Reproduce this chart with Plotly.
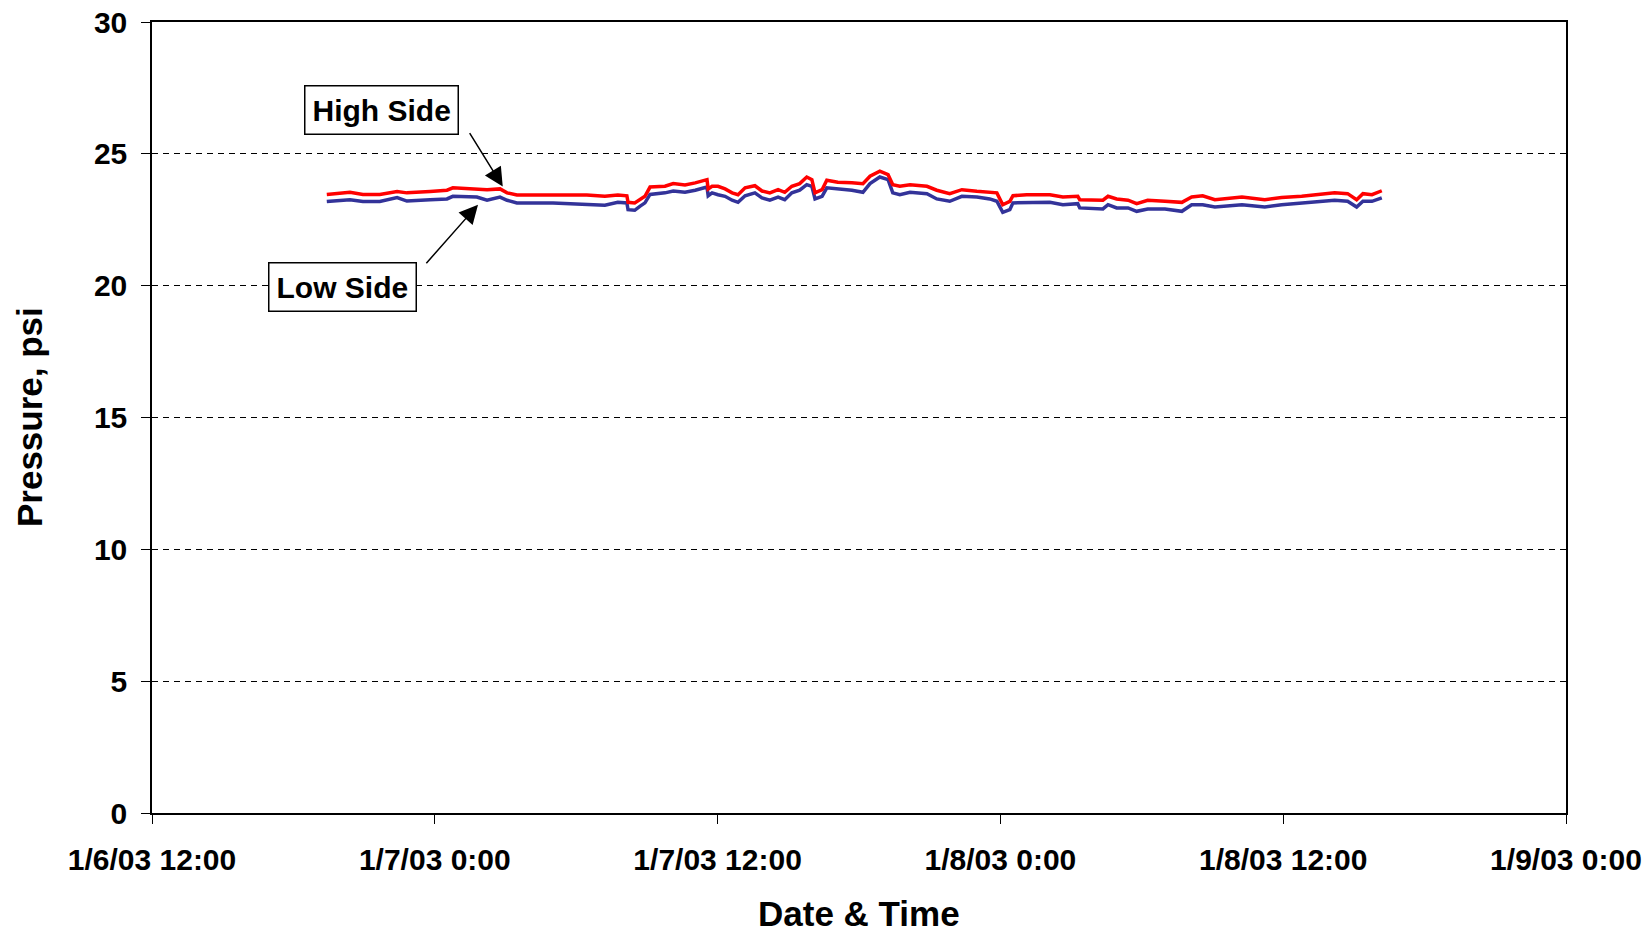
import plotly.graph_objects as go

# ---- data ----
times = [
    "2003-01-06 19:25", "2003-01-06 20:24", "2003-01-06 20:57", "2003-01-06 21:40",
    "2003-01-06 22:24", "2003-01-06 22:49", "2003-01-06 23:48", "2003-01-07 00:31",
    "2003-01-07 00:46", "2003-01-07 01:47", "2003-01-07 02:13", "2003-01-07 02:46",
    "2003-01-07 03:04", "2003-01-07 03:29", "2003-01-07 05:01", "2003-01-07 06:27",
    "2003-01-07 07:13", "2003-01-07 07:46", "2003-01-07 08:09", "2003-01-07 08:12",
    "2003-01-07 08:29", "2003-01-07 08:42", "2003-01-07 08:55", "2003-01-07 09:08",
    "2003-01-07 09:46", "2003-01-07 10:07", "2003-01-07 10:37", "2003-01-07 11:03",
    "2003-01-07 11:33", "2003-01-07 11:36", "2003-01-07 11:46", "2003-01-07 12:01",
    "2003-01-07 12:19", "2003-01-07 12:37", "2003-01-07 12:52", "2003-01-07 13:10",
    "2003-01-07 13:35", "2003-01-07 13:53", "2003-01-07 14:13", "2003-01-07 14:34",
    "2003-01-07 14:51", "2003-01-07 15:09", "2003-01-07 15:29", "2003-01-07 15:47",
    "2003-01-07 16:00", "2003-01-07 16:08", "2003-01-07 16:26", "2003-01-07 16:38",
    "2003-01-07 17:06", "2003-01-07 17:42", "2003-01-07 18:10", "2003-01-07 18:28",
    "2003-01-07 18:53", "2003-01-07 19:14", "2003-01-07 19:26", "2003-01-07 19:44",
    "2003-01-07 20:10", "2003-01-07 20:53", "2003-01-07 21:18", "2003-01-07 21:51",
    "2003-01-07 22:22", "2003-01-07 23:00", "2003-01-07 23:33", "2003-01-07 23:51",
    "2003-01-08 00:06", "2003-01-08 00:24", "2003-01-08 00:32", "2003-01-08 01:07",
    "2003-01-08 02:06", "2003-01-08 02:39", "2003-01-08 03:17", "2003-01-08 03:22",
    "2003-01-08 04:21", "2003-01-08 04:34", "2003-01-08 04:56", "2003-01-08 05:25",
    "2003-01-08 05:47", "2003-01-08 06:15", "2003-01-08 06:59", "2003-01-08 07:42",
    "2003-01-08 08:07", "2003-01-08 08:35", "2003-01-08 09:06", "2003-01-08 10:15",
    "2003-01-08 11:13", "2003-01-08 11:56", "2003-01-08 12:47", "2003-01-08 13:28",
    "2003-01-08 14:11", "2003-01-08 14:44", "2003-01-08 15:07", "2003-01-08 15:23",
    "2003-01-08 15:46", "2003-01-08 16:11",
]

high_side = [
    23.46, 23.54, 23.46, 23.46, 23.57, 23.52, 23.57, 23.62,
    23.71, 23.67, 23.64, 23.67, 23.52, 23.44, 23.44, 23.44,
    23.39, 23.44, 23.41, 23.16, 23.14, 23.26, 23.39, 23.74,
    23.77, 23.87, 23.82, 23.90, 24.02, 23.67, 23.77, 23.77,
    23.67, 23.52, 23.45, 23.71, 23.79, 23.59, 23.52, 23.64,
    23.54, 23.77, 23.87, 24.12, 24.02, 23.52, 23.64, 24.00,
    23.92, 23.90, 23.87, 24.15, 24.34, 24.21, 23.83, 23.77,
    23.83, 23.77, 23.62, 23.49, 23.64, 23.58, 23.54, 23.52,
    23.07, 23.20, 23.41, 23.45, 23.45, 23.36, 23.39, 23.26,
    23.24, 23.39, 23.29, 23.24, 23.11, 23.24, 23.20, 23.16,
    23.36, 23.41, 23.26, 23.36, 23.26, 23.34, 23.39, 23.45,
    23.52, 23.49, 23.26, 23.49, 23.45, 23.60,
]

low_side = [
    23.19, 23.26, 23.19, 23.19, 23.34, 23.21, 23.26, 23.29,
    23.39, 23.36, 23.24, 23.36, 23.24, 23.14, 23.14, 23.09,
    23.05, 23.16, 23.14, 22.88, 22.86, 23.01, 23.14, 23.46,
    23.52, 23.59, 23.54, 23.62, 23.74, 23.41, 23.52, 23.45,
    23.39, 23.24, 23.16, 23.41, 23.52, 23.33, 23.24, 23.36,
    23.26, 23.52, 23.62, 23.83, 23.77, 23.29, 23.39, 23.71,
    23.67, 23.62, 23.54, 23.87, 24.12, 24.02, 23.52, 23.45,
    23.54, 23.49, 23.29, 23.20, 23.39, 23.36, 23.29, 23.20,
    22.78, 22.88, 23.14, 23.14, 23.16, 23.07, 23.11, 22.95,
    22.91, 23.07, 22.95, 22.95, 22.82, 22.91, 22.91, 22.82,
    23.07, 23.07, 22.98, 23.07, 22.98, 23.07, 23.14, 23.20,
    23.24, 23.20, 22.98, 23.20, 23.20, 23.33,
]

x_tick_vals = ["2003-01-06 12:00", "2003-01-07 00:00", "2003-01-07 12:00",
               "2003-01-08 00:00", "2003-01-08 12:00", "2003-01-09 00:00"]
x_tick_text = ["1/6/03 12:00", "1/7/03 0:00", "1/7/03 12:00",
               "1/8/03 0:00", "1/8/03 12:00", "1/9/03 0:00"]
y_tick_vals = [0, 5, 10, 15, 20, 25, 30]

FONT = "Liberation Sans, Arial, sans-serif"

fig = go.Figure()
fig.add_trace(go.Scatter(x=times, y=low_side, mode="lines", name="Low Side",
                         line=dict(color="#333399", width=3.5)))
fig.add_trace(go.Scatter(x=times, y=high_side, mode="lines", name="High Side",
                         line=dict(color="#FF0000", width=3.5)))

fig.update_layout(
    width=1648, height=933,
    margin=dict(l=152, r=82, t=22, b=120, autoexpand=False),
    paper_bgcolor="white", plot_bgcolor="white",
    showlegend=False,
    font=dict(family=FONT, color="black"),
)

fig.update_xaxes(
    range=["2003-01-06 12:00", "2003-01-09 00:00"],
    tickvals=x_tick_vals, ticktext=x_tick_text,
    tickfont=dict(family=FONT, size=30, weight="bold", color="black"),
    ticks="outside", ticklen=9, tickcolor="black", tickwidth=1,
    ticklabelstandoff=10,
    showline=True, linecolor="black", linewidth=2, mirror=True,
    showgrid=False, zeroline=False,
)
fig.update_yaxes(
    range=[0, 30], tickvals=y_tick_vals,
    tickfont=dict(family=FONT, size=30, weight="bold", color="black"),
    ticks="outside", ticklen=9, tickcolor="black", tickwidth=1,
    ticklabelstandoff=8,
    showline=True, linecolor="black", linewidth=1.5, mirror=True,
    showgrid=True, gridcolor="black", gridwidth=1, griddash="6px,5px",
    zeroline=False,
)

# axis titles
fig.add_annotation(text="Date & Time", xref="paper", yref="paper",
                   x=0.5, y=-0.1265, xanchor="center", yanchor="middle",
                   showarrow=False,
                   font=dict(family=FONT, size=35, weight="bold", color="black"))
fig.add_annotation(text="Pressure, psi", xref="paper", yref="paper",
                   x=-0.0866, y=0.5, xanchor="center", yanchor="middle",
                   textangle=-90, showarrow=False,
                   font=dict(family=FONT, size=35, weight="bold", color="black"))

# series labels in boxes
for label, px, py in [("High Side", 0.162, 0.889), ("Low Side", 0.1347, 0.6654)]:
    fig.add_annotation(text=label, xref="paper", yref="paper", x=px, y=py,
                       xanchor="center", yanchor="middle", showarrow=False,
                       bgcolor="white", bordercolor="black", borderwidth=1.5,
                       borderpad=7,
                       font=dict(family=FONT, size=30, weight="bold", color="black"))

# arrows
fig.add_annotation(text="", x="2003-01-07 02:53", y=23.76, ax=-34, ay=-55,
                   showarrow=True, arrowhead=2, arrowsize=2.5, arrowwidth=1.5,
                   arrowcolor="black", standoff=0)
fig.add_annotation(text="", x="2003-01-07 01:50", y=23.07, ax=-53, ay=60,
                   showarrow=True, arrowhead=2, arrowsize=2.5, arrowwidth=1.5,
                   arrowcolor="black", standoff=0)

fig.write_html("out.html", config={"displayModeBar": False},
               post_script="document.body.style.margin='0px';")
